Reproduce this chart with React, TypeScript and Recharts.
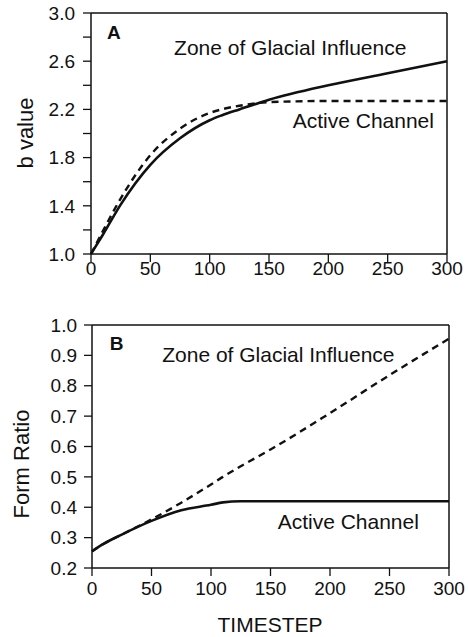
import React from 'react';
import { LineChart, Line, XAxis, YAxis, ReferenceLine, ReferenceDot } from 'recharts';

const TIMESTEPS = [0, 10, 25, 50, 75, 100, 110, 125, 150, 200, 250, 300];
const A_GLACIAL = [1.0, 1.16, 1.41, 1.74, 1.96, 2.11, 2.15, 2.2, 2.28, 2.4, 2.5, 2.6];
const A_ACTIVE = [1.0, 1.19, 1.46, 1.82, 2.04, 2.17, 2.2, 2.23, 2.26, 2.27, 2.27, 2.27];
const B_GLACIAL = [0.255, 0.28, 0.31, 0.36, 0.415, 0.475, 0.5, 0.535, 0.59, 0.71, 0.835, 0.955];
const B_ACTIVE = [0.255, 0.28, 0.31, 0.355, 0.39, 0.408, 0.416, 0.42, 0.42, 0.42, 0.42, 0.42];

const X_TICKS = [0, 50, 100, 150, 200, 250, 300];
const A_Y_TICKS = [1.0, 1.2, 1.4, 1.6, 1.8, 2.0, 2.2, 2.4, 2.6, 2.8, 3.0];
const A_Y_LABELS = ['1.0', '1.4', '1.8', '2.2', '2.6', '3.0'];
const B_Y_TICKS = [0.2, 0.3, 0.4, 0.5, 0.6, 0.7, 0.8, 0.9, 1.0];

const dataA = TIMESTEPS.map((t, i) => ({ t, glacial: A_GLACIAL[i], active: A_ACTIVE[i] }));
const dataB = TIMESTEPS.map((t, i) => ({ t, glacial: B_GLACIAL[i], active: B_ACTIVE[i] }));

const FONT = '"Liberation Sans", Arial, Helvetica, sans-serif';
const tickStyle = { fill: '#111', fontSize: 19, fontFamily: FONT };
const axisLine = { stroke: '#111', strokeWidth: 1.5 };
const tickLine = { stroke: '#111', strokeWidth: 1.3 };

const textShape = (txt: string, size: number, bold = false) => (props: any) => (
  <text
    x={props.cx}
    y={props.cy}
    textAnchor="start"
    fontFamily={FONT}
    fontSize={size}
    fontWeight={bold ? 'bold' : 'normal'}
    fill="#111"
  >
    {txt}
  </text>
);

export default function App() {
  return (
    <div style={{ position: 'absolute', left: 0, top: 0, width: 468, height: 637, background: '#fff' }}>
      <LineChart
        width={468}
        height={290}
        data={dataA}
        margin={{ top: 13, right: 21, left: 0, bottom: 0 }}
      >
        <XAxis
          dataKey="t"
          type="number"
          domain={[0, 300]}
          ticks={X_TICKS}
          height={36}
          tick={tickStyle}
          tickSize={8}
          tickMargin={0}
          axisLine={axisLine}
          tickLine={tickLine}
        />
        <YAxis
          type="number"
          domain={[1, 3]}
          ticks={A_Y_TICKS}
          width={91}
          tick={tickStyle}
          tickSize={8}
          tickMargin={8}
          axisLine={axisLine}
          tickLine={tickLine}
          tickFormatter={(v: number) => (A_Y_LABELS.includes(v.toFixed(1)) ? v.toFixed(1) : '')}
          label={{
            content: () => (
              <text
                x={33}
                y={133}
                transform="rotate(-90, 33, 133)"
                textAnchor="middle"
                fontFamily={FONT}
                fontSize={22}
                fill="#111"
              >
                b value
              </text>
            ),
          }}
        />
        <ReferenceLine y={3} stroke="#111" strokeWidth={1.5} />
        <ReferenceLine x={300} stroke="#111" strokeWidth={1.5} />
        <Line
          type="monotone"
          dataKey="glacial"
          stroke="#111"
          strokeWidth={2.6}
          dot={false}
          isAnimationActive={false}
        />
        <Line
          type="monotone"
          dataKey="active"
          stroke="#111"
          strokeWidth={2.4}
          strokeDasharray="7 5"
          dot={false}
          isAnimationActive={false}
        />
        <ReferenceDot x={13.5} y={2.785} r={1} shape={textShape('A', 19, true)} />
        <ReferenceDot x={70} y={2.65} r={1} shape={textShape('Zone of Glacial Influence', 21)} />
        <ReferenceDot x={170} y={2.046} r={1} shape={textShape('Active Channel', 21)} />
      </LineChart>
      <LineChart
        width={468}
        height={347}
        data={dataB}
        margin={{ top: 35, right: 19, left: 0, bottom: 0 }}
      >
        <XAxis
          dataKey="t"
          type="number"
          domain={[0, 300]}
          ticks={X_TICKS}
          height={69}
          tick={tickStyle}
          tickSize={8}
          tickMargin={6}
          axisLine={axisLine}
          tickLine={tickLine}
          label={{
            content: () => (
              <text x={270} y={342} textAnchor="middle" fontFamily={FONT} fontSize={21} fill="#111">
                TIMESTEP
              </text>
            ),
          }}
        />
        <YAxis
          type="number"
          domain={[0.2, 1.0]}
          ticks={B_Y_TICKS}
          width={92}
          tick={tickStyle}
          tickSize={8}
          tickMargin={7}
          axisLine={axisLine}
          tickLine={tickLine}
          tickFormatter={(v: number) => v.toFixed(1)}
          label={{
            content: () => (
              <text
                x={29}
                y={174}
                transform="rotate(-90, 29, 174)"
                textAnchor="middle"
                fontFamily={FONT}
                fontSize={22}
                fill="#111"
              >
                Form Ratio
              </text>
            ),
          }}
        />
        <ReferenceLine y={1.0} stroke="#111" strokeWidth={1.5} />
        <ReferenceLine x={300} stroke="#111" strokeWidth={1.5} />
        <Line
          type="monotone"
          dataKey="glacial"
          stroke="#111"
          strokeWidth={2.4}
          strokeDasharray="7 5"
          dot={false}
          isAnimationActive={false}
        />
        <Line
          type="monotone"
          dataKey="active"
          stroke="#111"
          strokeWidth={2.6}
          dot={false}
          isAnimationActive={false}
        />
        <ReferenceDot x={15} y={0.918} r={1} shape={textShape('B', 19, true)} />
        <ReferenceDot x={59} y={0.878} r={1} shape={textShape('Zone of Glacial Influence', 21)} />
        <ReferenceDot x={156} y={0.328} r={1} shape={textShape('Active Channel', 21)} />
      </LineChart>
    </div>
  );
}
